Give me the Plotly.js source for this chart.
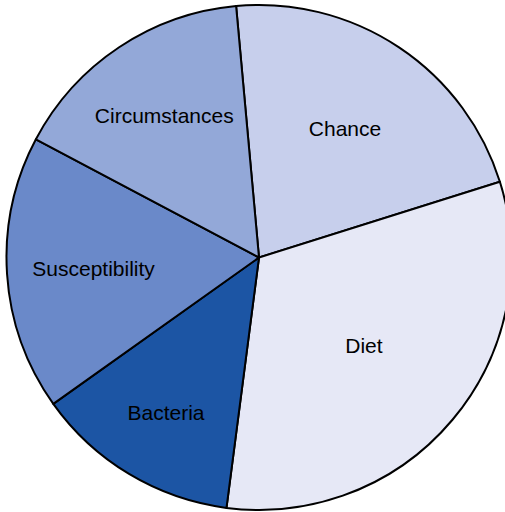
<!DOCTYPE html>
<html>
<head>
<meta charset="utf-8">
<script src="https://cdn.plot.ly/plotly-3.0.1.min.js"></script>
<style>
html,body{margin:0;padding:0;overflow:hidden;background:#fff;}
#chart{width:518px;height:512px;}
</style>
</head>
<body>
<div id="chart"></div>
<script>
const labels = ["Chance", "Diet", "Bacteria", "Susceptibility", "Circumstances"];
const values = [21.6, 31.9, 13.1, 17.6, 15.8];
const colors = ["#c7cfec", "#e6e8f6", "#1c55a4", "#6a89c9", "#93a8d8"];

const trace = {
  type: "pie",
  labels: labels,
  values: values,
  sort: false,
  direction: "clockwise",
  rotation: -5.2,
  marker: {colors: colors, line: {color: "#000", width: 2}},
  textinfo: "label",
  textposition: "inside",
  insidetextorientation: "horizontal",
  textfont: {family: "Liberation Sans, Arial, sans-serif", size: 21, color: "#000"},
  hoverinfo: "none",
  showlegend: false
};

Plotly.newPlot("chart", [trace], {
  width: 518,
  height: 512,
  margin: {l: 0, r: 0, t: 5, b: 2, pad: 0},
  paper_bgcolor: "#fff",
  showlegend: false
}, {staticPlot: true, displayModeBar: false});
</script>
</body>
</html>
